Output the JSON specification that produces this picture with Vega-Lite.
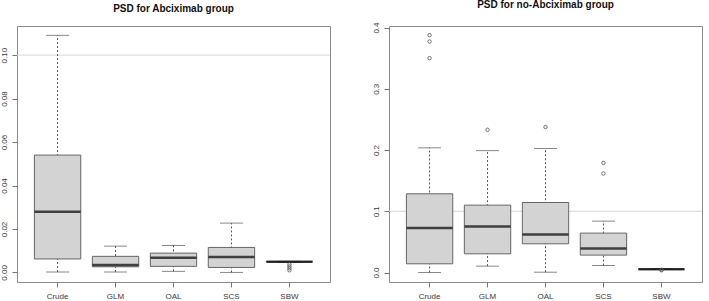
{
  "$schema": "https://vega.github.io/schema/vega-lite/v6.json",
  "padding": {"left": -1, "top": -1, "right": 0, "bottom": 0},
  "background": "white",
  "spacing": 40,
  "config": {
    "view": {"stroke": "#8a8a8a", "strokeWidth": 1},
    "font": "Liberation Sans",
    "axis": {
      "grid": false,
      "domain": false,
      "tickColor": "#777777",
      "tickSize": 5,
      "labelFont": "Liberation Sans",
      "labelFontSize": 8,
      "labelColor": "#3a3a3a",
      "title": null
    },
    "title": {"font": "Liberation Sans", "fontSize": 10, "fontWeight": "bold", "color": "#111111", "frame": "group", "anchor": "middle", "baseline": "alphabetic", "offset": 12}
  },
  "datasets": {
    "stats": [
      {"panel": "A", "method": "Crude", "lo": 0.0002, "q1": 0.0062, "med": 0.0279, "q3": 0.054, "hi": 0.1091},
      {"panel": "A", "method": "GLM", "lo": 0.0002, "q1": 0.0026, "med": 0.0034, "q3": 0.0074, "hi": 0.0121},
      {"panel": "A", "method": "OAL", "lo": 0.0005, "q1": 0.0028, "med": 0.0068, "q3": 0.0089, "hi": 0.0124},
      {"panel": "A", "method": "SCS", "lo": 0.0, "q1": 0.0023, "med": 0.0071, "q3": 0.0115, "hi": 0.0227},
      {"panel": "A", "method": "SBW", "lo": 0.0047, "q1": 0.0048, "med": 0.0049, "q3": 0.005, "hi": 0.0051},
      {"panel": "B", "method": "Crude", "lo": 0.0, "q1": 0.0142, "med": 0.0725, "q3": 0.1285, "hi": 0.2036},
      {"panel": "B", "method": "GLM", "lo": 0.0104, "q1": 0.0305, "med": 0.0751, "q3": 0.110, "hi": 0.199},
      {"panel": "B", "method": "OAL", "lo": 0.0005, "q1": 0.0469, "med": 0.062, "q3": 0.1143, "hi": 0.2025},
      {"panel": "B", "method": "SCS", "lo": 0.0114, "q1": 0.0284, "med": 0.0392, "q3": 0.0643, "hi": 0.0839},
      {"panel": "B", "method": "SBW", "lo": 0.0052, "q1": 0.0054, "med": 0.0055, "q3": 0.0056, "hi": 0.0058}
    ],
    "outliers": [
      {"panel": "A", "method": "SBW", "value": 0.0037},
      {"panel": "A", "method": "SBW", "value": 0.0028},
      {"panel": "A", "method": "SBW", "value": 0.0019},
      {"panel": "A", "method": "SBW", "value": 0.0010},
      {"panel": "B", "method": "Crude", "value": 0.3876},
      {"panel": "B", "method": "Crude", "value": 0.3771},
      {"panel": "B", "method": "Crude", "value": 0.35},
      {"panel": "B", "method": "GLM", "value": 0.233},
      {"panel": "B", "method": "OAL", "value": 0.2374},
      {"panel": "B", "method": "SCS", "value": 0.179},
      {"panel": "B", "method": "SCS", "value": 0.1617},
      {"panel": "B", "method": "SBW", "value": 0.0045},
      {"panel": "B", "method": "SBW", "value": 0.0036}
    ],
    "refline": [{"v": 0.1}]
  },
  "hconcat": [
    {
      "width": 313,
      "height": 256,
      "title": {"text": "PSD for Abciximab group"},
      "layer": [
        {
          "data": {"name": "refline"},
          "mark": {"type": "rule", "color": "#d6d6d6", "strokeWidth": 1},
          "encoding": {"y": {"field": "v", "type": "quantitative", "scale": {"domain": [-0.0044, 0.1134], "nice": false, "zero": false}, "axis": {"values": [0, 0.02, 0.04, 0.06, 0.08, 0.1], "format": ".2f", "labelAngle": 270, "labelAlign": "center", "labelBaseline": "bottom", "labelPadding": 4}}}
        },
        {
          "data": {"name": "stats"},
          "transform": [{"filter": "datum.panel === 'A'"}],
          "layer": [
            {
              "mark": {"type": "rule", "color": "#555555", "strokeWidth": 1, "strokeDash": [2, 2]},
              "encoding": {"y": {"field": "lo", "type": "quantitative"}, "y2": {"field": "hi"}}
            },
            {
              "mark": {"type": "tick", "color": "#555555", "thickness": 1, "size": 23, "orient": "horizontal"},
              "encoding": {"y": {"field": "lo", "type": "quantitative"}}
            },
            {
              "mark": {"type": "tick", "color": "#555555", "thickness": 1, "size": 23, "orient": "horizontal"},
              "encoding": {"y": {"field": "hi", "type": "quantitative"}}
            },
            {
              "mark": {"type": "bar", "fill": "#d3d3d3", "stroke": "#666666", "strokeWidth": 1, "width": {"band": 0.8}},
              "encoding": {"y": {"field": "q1", "type": "quantitative"}, "y2": {"field": "q3"}}
            },
            {
              "mark": {"type": "tick", "color": "#000000", "thickness": 2.5, "size": 46, "orient": "horizontal"},
              "encoding": {"y": {"field": "med", "type": "quantitative"}}
            }
          ],
          "encoding": {
            "x": {"field": "method", "type": "nominal", "sort": ["Crude", "GLM", "OAL", "SCS", "SBW"], "scale": {"paddingInner": 0, "paddingOuter": 0.2}, "axis": {"labelAngle": 0, "labelPadding": 5}}
          }
        },
        {
          "data": {"name": "outliers"},
          "transform": [{"filter": "datum.panel === 'A'"}],
          "mark": {"type": "point", "shape": "circle", "filled": false, "size": 12, "strokeWidth": 0.8, "color": "#555555", "opacity": 1},
          "encoding": {
            "x": {"field": "method", "type": "nominal", "sort": ["Crude", "GLM", "OAL", "SCS", "SBW"]},
            "y": {"field": "value", "type": "quantitative"}
          }
        }
      ]
    },
    {
      "width": 313,
      "height": 256,
      "title": {"text": "PSD for no-Abciximab group"},
      "layer": [
        {
          "data": {"name": "refline"},
          "mark": {"type": "rule", "color": "#d6d6d6", "strokeWidth": 1},
          "encoding": {"y": {"field": "v", "type": "quantitative", "scale": {"domain": [-0.0155, 0.4025], "nice": false, "zero": false}, "axis": {"values": [0, 0.1, 0.2, 0.3, 0.4], "format": ".1f", "labelAngle": 270, "labelAlign": "center", "labelBaseline": "bottom", "labelPadding": 4}}}
        },
        {
          "data": {"name": "stats"},
          "transform": [{"filter": "datum.panel === 'B'"}],
          "layer": [
            {
              "mark": {"type": "rule", "color": "#555555", "strokeWidth": 1, "strokeDash": [2, 2]},
              "encoding": {"y": {"field": "lo", "type": "quantitative"}, "y2": {"field": "hi"}}
            },
            {
              "mark": {"type": "tick", "color": "#555555", "thickness": 1, "size": 23, "orient": "horizontal"},
              "encoding": {"y": {"field": "lo", "type": "quantitative"}}
            },
            {
              "mark": {"type": "tick", "color": "#555555", "thickness": 1, "size": 23, "orient": "horizontal"},
              "encoding": {"y": {"field": "hi", "type": "quantitative"}}
            },
            {
              "mark": {"type": "bar", "fill": "#d3d3d3", "stroke": "#666666", "strokeWidth": 1, "width": {"band": 0.8}},
              "encoding": {"y": {"field": "q1", "type": "quantitative"}, "y2": {"field": "q3"}}
            },
            {
              "mark": {"type": "tick", "color": "#000000", "thickness": 2.5, "size": 46, "orient": "horizontal"},
              "encoding": {"y": {"field": "med", "type": "quantitative"}}
            }
          ],
          "encoding": {
            "x": {"field": "method", "type": "nominal", "sort": ["Crude", "GLM", "OAL", "SCS", "SBW"], "scale": {"paddingInner": 0, "paddingOuter": 0.2}, "axis": {"labelAngle": 0, "labelPadding": 5}}
          }
        },
        {
          "data": {"name": "outliers"},
          "transform": [{"filter": "datum.panel === 'B'"}],
          "mark": {"type": "point", "shape": "circle", "filled": false, "size": 12, "strokeWidth": 0.8, "color": "#555555", "opacity": 1},
          "encoding": {
            "x": {"field": "method", "type": "nominal", "sort": ["Crude", "GLM", "OAL", "SCS", "SBW"]},
            "y": {"field": "value", "type": "quantitative"}
          }
        }
      ]
    }
  ]
}
